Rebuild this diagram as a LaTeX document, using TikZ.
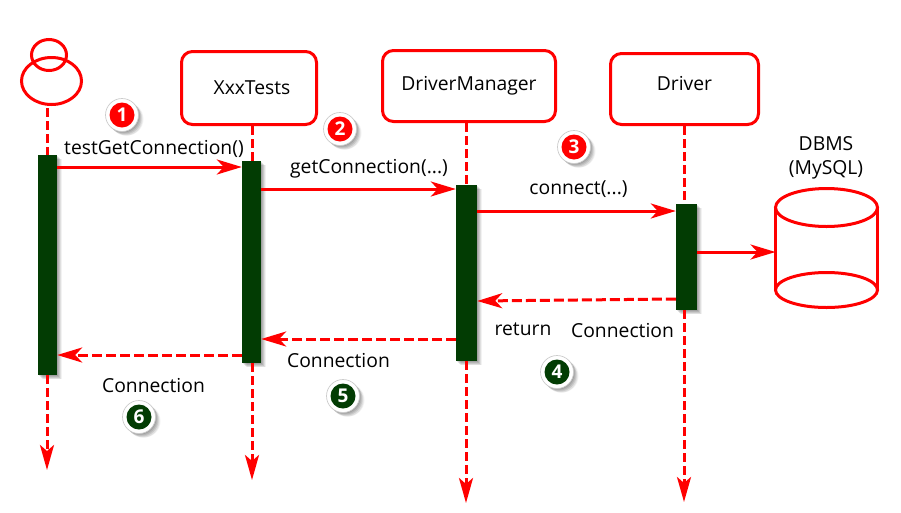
\documentclass[tikz,border=0pt]{standalone}
\usepackage{fontspec}
\setmainfont{Open Sans}
\usetikzlibrary{arrows.meta,shapes.geometric,calc}
\definecolor{barg}{HTML}{023C03}
\definecolor{redl}{HTML}{FF0000}
\tikzset{
  softshadow/.style={
    preaction={fill=black,opacity=.10,draw=none,transform canvas={xshift=1pt,yshift=-1pt}},
    preaction={fill=black,opacity=.10,draw=none,transform canvas={xshift=2pt,yshift=-2pt}},
    preaction={fill=black,opacity=.10,draw=none,transform canvas={xshift=3pt,yshift=-3pt}},
    preaction={fill=black,opacity=.08,draw=none,transform canvas={xshift=4pt,yshift=-4pt}},
    preaction={fill=black,opacity=.05,draw=none,transform canvas={xshift=5pt,yshift=-4pt}}},
  lifebox/.style={draw=redl,line width=3pt,rounded corners=11pt,fill=white,font=\fontsize{19.3}{23}\selectfont,inner sep=0pt},
  barbox/.style={fill=barg,inner sep=0pt,softshadow},
  ell/.style={ellipse,draw=redl,line width=3pt,inner sep=0pt,outer sep=0pt},
  msg/.style={draw=redl,line width=3pt,-{Stealth[length=25pt,width=15pt,inset=7pt]}},
  ret/.style={msg,dash pattern=on 10pt off 4pt},
  life/.style={draw=redl,line width=3pt,dash pattern=on 9pt off 4pt},
  lifeend/.style={life,-{Stealth[length=25pt,width=14pt,inset=6pt]}},
  lbl/.style={font=\fontsize{19.3}{23}\selectfont,inner sep=0pt,text=black},
  badge/.style={circle,fill=white,draw=gray!40,line width=.7pt,minimum size=33pt,inner sep=0pt,text=white,font=\fontsize{19}{19}\selectfont\bfseries,softshadow,
    path picture={\fill[#1] (path picture bounding box.center) circle (12.5pt);}},
}
\begin{document}
\begin{tikzpicture}[x=1pt,y=-1pt]
\useasboundingbox (0,0) rectangle (901,512);
% lifelines' free ends
\coordinate (e1) at (47,470);
\coordinate (e2) at (252,480);
\coordinate (e3) at (466,503);
\coordinate (e4) at (684,502);
% heads
\node[ell,minimum width=60pt,minimum height=47pt] (body) at (51.5,81) {};
\node[ell,minimum width=35pt,minimum height=31pt] (head) at (49,55) {};
\node[lifebox,minimum width=135pt,minimum height=73pt] (b2) at (249,88) {\hspace*{6pt}XxxTests};
\node[lifebox,minimum width=173pt,minimum height=71pt] (b3) at (469,86) {DriverManager};
\node[lifebox,minimum width=148pt,minimum height=71pt] (b4) at (684.5,89) {\raisebox{12pt}{Driver}};
% bars
\node[barbox,minimum width=19pt,minimum height=220pt] (a1) at (47.5,265) {};
\node[barbox,minimum width=19pt,minimum height=202pt] (a2) at (251.5,262) {};
\node[barbox,minimum width=21pt,minimum height=176pt] (a3) at (466.5,273) {};
\node[barbox,minimum width=21pt,minimum height=106pt] (a4) at (686.5,257) {};
% lifelines
\draw[life] (47,108) -- (a1.north -| e1);
\draw[life] (b2.south -| e2) -- (a2.north -| e2);
\draw[life] (b3.south -| e3) -- (a3.north -| e3);
\draw[life] (b4.south -| e4) -- (a4.north -| e4);
\draw[lifeend] (a1.south -| e1) -- (e1);
\draw[lifeend] (a2.south -| e2) -- (e2);
\draw[lifeend] (a3.south -| e3) -- (e3);
\draw[lifeend] (a4.south -| e4) -- (e4);
% database
\node[ell,minimum width=102pt,minimum height=38pt] (dbtop) at (826.5,207.5) {};
\node[ell,minimum width=102pt,minimum height=35pt] (dbbot) at (826.5,290) {};
\draw[draw=redl,line width=3pt] (dbtop.west) -- (dbbot.west);
\draw[draw=redl,line width=3pt] (dbtop.east) -- (dbbot.east);
% messages
\coordinate (y1) at (0,167);
\coordinate (y2) at (0,189);
\coordinate (y3) at (0,211);
\coordinate (y4) at (0,252);
\coordinate (y5a) at (0,299);
\coordinate (y5b) at (0,301);
\coordinate (y6) at (0,339);
\coordinate (y7) at (0,355);
\draw[msg] (a1.east |- y1) -- (a2.west |- y1);
\draw[msg] (a2.east |- y2) -- (a3.west |- y2);
\draw[msg] (a3.east |- y3) -- (a4.west |- y3);
\draw[msg] (a4.east |- y4) -- (dbtop.west |- y4);
\draw[ret] (a4.west |- y5a) -- (a3.east |- y5b);
\draw[ret] (a3.west |- y6) -- (a2.east |- y6);
\draw[ret] (a2.west |- y7) -- (a1.east |- y7);
% labels
\node[lbl] (t1) at (154,149) {testGetConnection()};
\node[lbl] (t2) at (369,169) {getConnection(...)};
\node[lbl] (t3) at (578.5,189) {connect(...)};
\node[lbl] (t4) at (523,329) {return};
\node[lbl] (t5) at (622.5,331) {Connection};
\node[lbl] (t6) at (338.5,361) {Connection};
\node[lbl] (t7) at (153.5,386) {Connection};
\node[lbl,align=center,font=\fontsize{19.3}{24}\selectfont] (t8) at (826,158) {DBMS\\(MySQL)};
% badges
\node[badge=redl] (n1) at (122,115) {1};
\node[badge=redl] (n2) at (340,129) {2};
\node[badge=redl] (n3) at (574,147) {3};
\node[badge=barg] (n4) at (557,372) {4};
\node[badge=barg] (n5) at (343,396) {5};
\node[badge=barg] (n6) at (139,417) {6};
\end{tikzpicture}
\end{document}
